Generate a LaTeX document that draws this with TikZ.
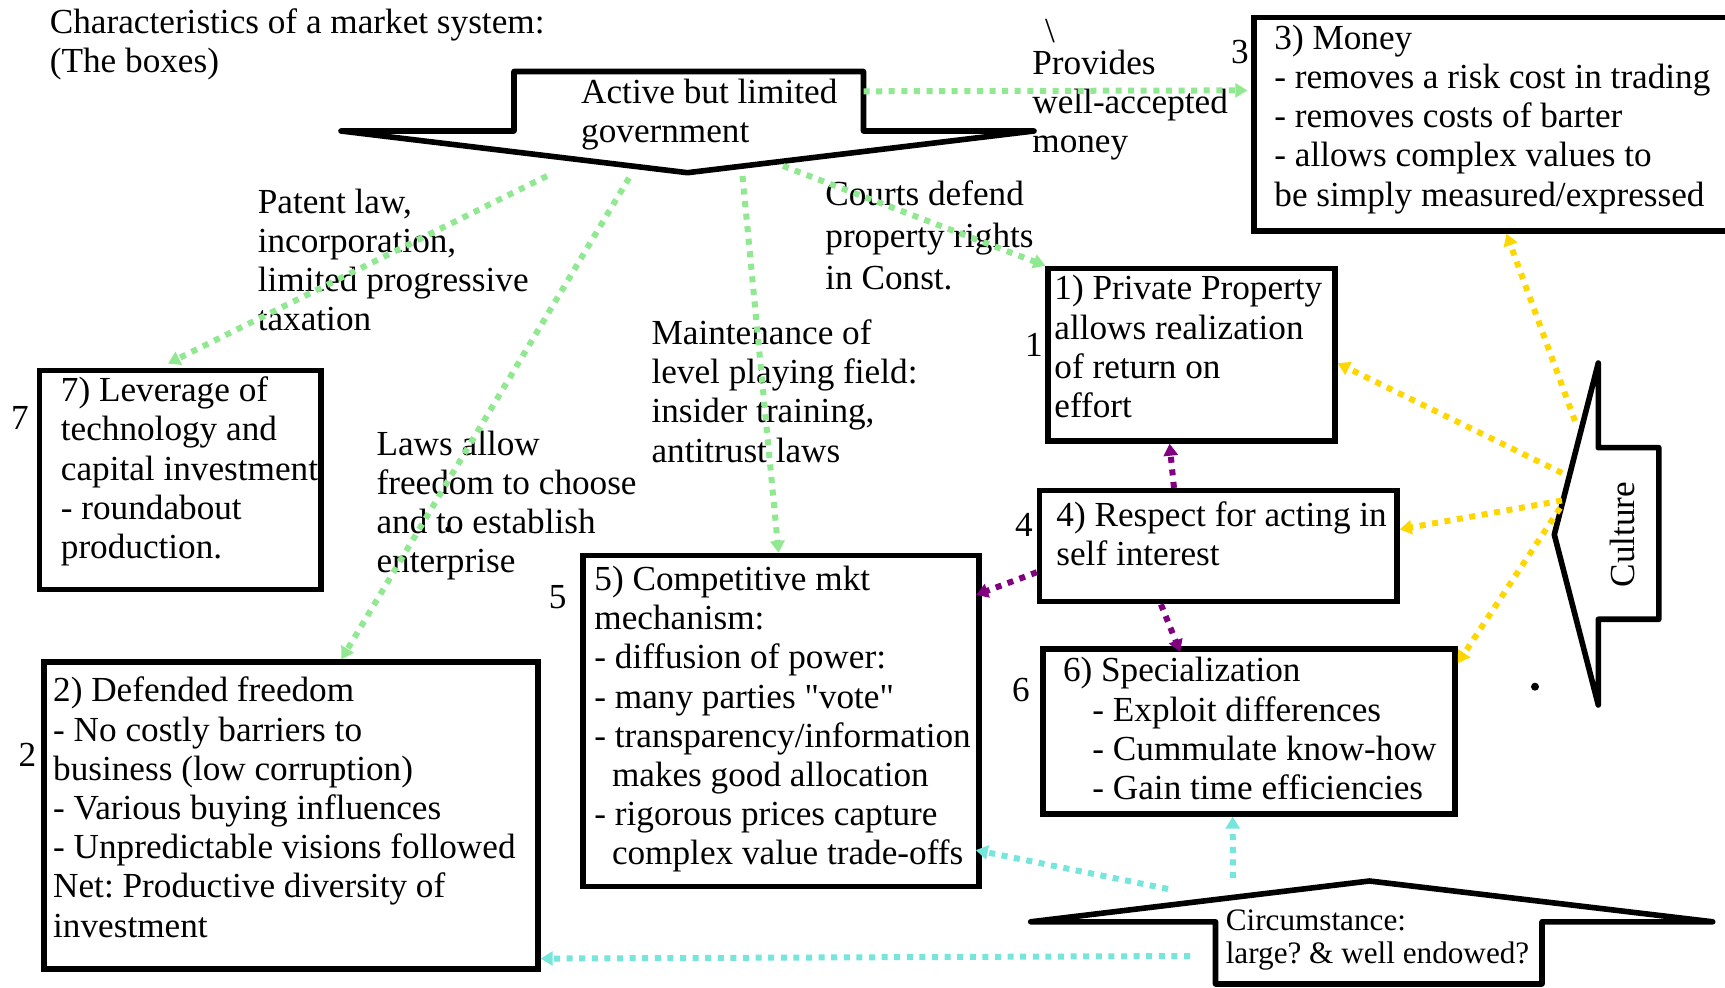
\documentclass[tikz,border=0pt]{standalone}
\usepackage{fontspec}
\setmainfont{Liberation Serif}[Ligatures=TeXOff]
\usetikzlibrary{arrows.meta,calc,fit}
\definecolor{lgreen}{RGB}{144,232,144}
\definecolor{purp}{RGB}{128,0,128}
\definecolor{gold}{RGB}{255,215,0}
\definecolor{turq}{RGB}{118,230,220}
\frenchspacing
\begin{document}
\begin{tikzpicture}[x=0.5pt,y=-0.5pt,
  box/.style={draw, line width=2.7pt, rectangle, inner sep=0pt},
  shapeline/.style={draw, line width=2.8pt, line join=round, fill=white},
  txt/.style={anchor=north west, inner sep=0pt, align=left, font=\fontsize{17.6}{19.6}\selectfont},
  num/.style={anchor=center, inner sep=0pt, font=\fontsize{17.6}{19.6}\selectfont},
  spot/.style={circle, fill=black, inner sep=0pt},
  conn/.style={line width=3pt, dash pattern=on 3pt off 3.3pt, -{Triangle[length=6pt,width=7pt]}},
  gconn/.style={conn, draw=lgreen},
  pconn/.style={conn, draw=purp},
  yconn/.style={conn, draw=gold},
  tconn/.style={conn, draw=turq}]
\useasboundingbox (0,0) rectangle (1725,988);
\clip (0,0) rectangle (1725,988);
\fill[white] (0,0) rectangle (1725,988);

% shapes
\draw[shapeline] (341,131) -- (514,131) -- (514,71.5) -- (863.5,71.5) -- (863.5,131) -- (1034,131) -- (687.5,172.7) -- cycle;
\draw[shapeline] (1554.3,534.6) -- (1598.3,363) -- (1598.3,447.7) -- (1658.8,447.7) -- (1658.8,619.3) -- (1598.3,619.3) -- (1598.3,705) -- cycle;
\draw[shapeline] (1030.7,921.8) -- (1369.5,881) -- (1712.7,921.8) -- (1542,921.8) -- (1542,984) -- (1215.5,984) -- (1215.5,921.8) -- cycle;

% boxes
\node (b3) [box, fit={(1254,17.6) (1745,231)}] {};
\node (b1) [box, fit={(1048,268.4) (1335,441)}] {};
\node (b4) [box, fit={(1039.5,490.6) (1397,601.7)}] {};
\node (b6) [box, fit={(1042.8,649) (1455,814)}] {};
\node (b5) [box, fit={(583,555.5) (979,886.6)}] {};
\node (b7) [box, fit={(39.6,370.7) (321,589.6)}] {};
\node (b2) [box, fit={(44,662) (538,969)}] {};

% texts
\node (title) [txt] at (49.5,8) {Characteristics of a market system:\\(The boxes)};
\node (govtxt) [txt] at (580.8,78.4) {Active but limited\\government};
\node (bsl) [num] at (1050,31) {\textbackslash};
\node (prov) [txt] at (1032,49.5) {Provides\\well-accepted\\money};
\node (t3) [txt] at (1274,24.5) {3) Money\\- removes a risk cost in trading\\- removes costs of barter\\- allows complex values to\\be simply measured/expressed};
\node (courts) [txt, font=\fontsize{17.6}{21}\selectfont] at (825,180) {Courts defend\\property rights\\in Const.};
\node (patent) [txt] at (257.4,188.4) {Patent law,\\incorporation,\\limited progressive\\taxation};
\node (maint) [txt] at (651.2,319.3) {Maintenance of\\level playing field:\\insider training,\\antitrust laws};
\node (laws) [txt] at (376.2,430.4) {Laws allow\\freedom to choose\\and to establish\\enterprise};
\node (t1) [txt] at (1054,275) {1) Private Property\\allows realization\\of return on\\effort};
\node (t4) [txt] at (1056,501) {4) Respect for acting in\\self interest};
\node (t6) [txt] at (1062.6,657) {6) Specialization\\\hspace*{14.7pt}- Exploit differences\\\hspace*{14.7pt}- Cummulate know-how\\\hspace*{14.7pt}- Gain time efficiencies};
\node (t5) [txt] at (594,565.7) {5) Competitive mkt\\mechanism:\\- diffusion of power:\\- many parties "vote"\\- transparency/information\\\hspace*{8.8pt}makes good allocation\\- rigorous prices capture\\\hspace*{8.8pt}complex value trade-offs};
\node (t7) [txt] at (60.5,376.5) {7) Leverage of\\technology and\\capital investment\\- roundabout\\production.};
\node (t2) [txt] at (52.8,676.8) {2) Defended freedom\\- No costly barriers to\\business (low corruption)\\- Various buying influences\\- Unpredictable visions followed\\Net: Productive diversity of\\investment};
\node (circ) [txt, font=\fontsize{15.6}{16.5}\selectfont] at (1225.4,909) {Circumstance:\\large? \& well endowed?};
\node (cult) [num, rotate=90] at (1622.5,534.6) {Culture};
\node (n7) [num] at (19.8,418) {7};
\node (n2) [num] at (27.5,754.6) {2};
\node (n5) [num] at (557.7,597) {5};
\node (n1) [num] at (1034,345) {1};
\node (n4) [num] at (1024,524.7) {4};
\node (n6) [num] at (1020.8,689.7) {6};
\node (n3) [num] at (1240,51.7) {3};
\node (spot1) [spot, minimum size=4pt] at (1535,686.7) {};
\node (spot2) [spot, minimum size=3pt] at (448.3,529.3) {};

% connector start points on the big arrows
\coordinate (gM) at (863.5,91.3);
\coordinate (g7) at (547,176);
\coordinate (g2) at (629,178);
\coordinate (g5) at (742.5,176);
\coordinate (g1) at (783,166);
\coordinate (c3) at (1575,421);
\coordinate (c1) at (1562,473);
\coordinate (c4) at (1562,500.5);
\coordinate (c6) at (1560,508);
\coordinate (s6) at (1233,878);
\coordinate (s5) at (1168,889);
\coordinate (s2) at (1190,956);

% green
\draw[gconn, shorten >=2pt] (gM) -- ($(b3.north west)!0.345!(b3.south west)$);
\draw[gconn, shorten >=5pt] (g7) -- ($(b7.north west)!0.426!(b7.north east)$);
\draw[gconn] (g2) -- ($(b2.north west)!0.601!(b2.north east)$);
\draw[gconn] (g5) -- ($(b5.north west)!0.494!(b5.north east)$);
\draw[gconn] (g1) -- (b1.north west);
% purple
\draw[pconn] ($(b4.north west)!0.378!(b4.north east)$) -- ($(b1.south west)!0.425!(b1.south east)$);
\draw[pconn, shorten >=-3pt] ($(b4.north west)!0.724!(b4.south west)$) -- ($(b5.north east)!0.119!(b5.south east)$);
\draw[pconn, shorten >=-3pt] ($(b4.south west)!0.342!(b4.south east)$) -- ($(b6.north west)!0.330!(b6.north east)$);
% gold
\draw[yconn] (c3) -- ($(b3.south west)!0.514!(b3.south east)$);
\draw[yconn] (c1) -- ($(b1.north east)!0.548!(b1.south east)$);
\draw[yconn] (c4) -- ($(b4.north east)!0.356!(b4.south east)$);
\draw[yconn] (c6) -- ($(b6.north east)!0.1!(b6.south east)$);
% turquoise
\draw[tconn] (s6) -- ($(b6.south west)!0.461!(b6.south east)$);
\draw[tconn, shorten >=-3pt] (s5) -- ($(b5.north east)!0.887!(b5.south east)$);
\draw[tconn] (s2) -- ($(b2.north east)!0.958!(b2.south east)$);
\end{tikzpicture}
\end{document}
